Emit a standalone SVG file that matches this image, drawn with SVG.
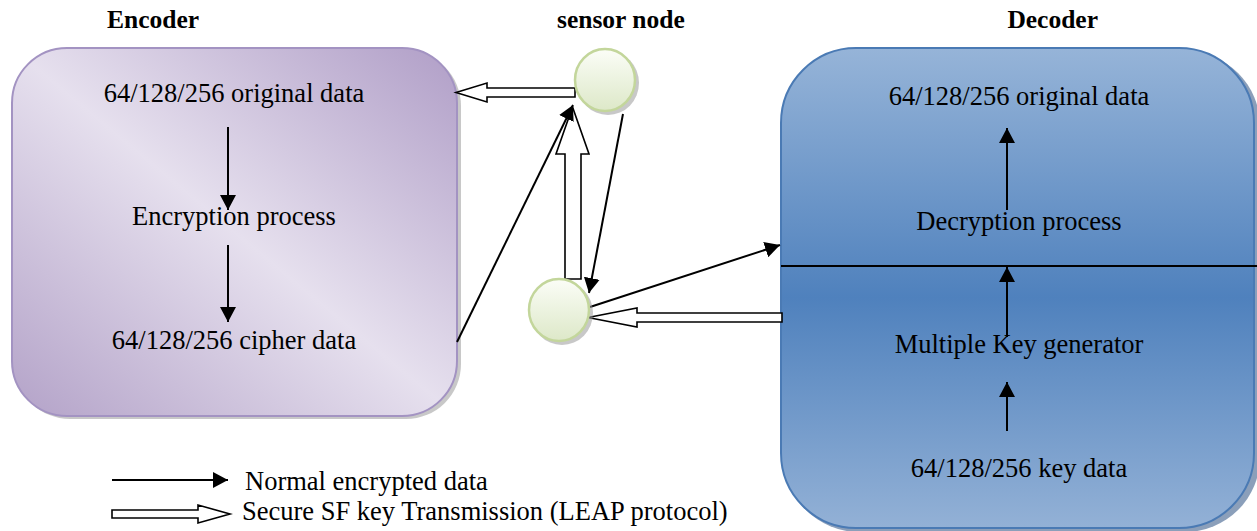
<svg xmlns="http://www.w3.org/2000/svg" width="1257" height="531" viewBox="0 0 1257 531">
  <style>
    .t { font-family: "Liberation Serif", "Times New Roman", serif; font-size: 26.5px; fill: #000; }
    .title { font-family: "Liberation Serif", "Times New Roman", serif; font-size: 25.5px; font-weight: bold; fill: #000; }
    .ln { stroke: #000; stroke-width: 2; fill: none; }
    .hollow { fill: #fff; stroke: #000; stroke-width: 1.6; stroke-linejoin: miter; }
    .sensor { fill: url(#gSensor); stroke: #c3d69b; stroke-width: 2.5; }
    .shadow { fill: #9a9a9a; opacity: 0.55; }
  </style>
  <defs>
    <linearGradient id="gEnc" x1="0" y1="1" x2="1" y2="0">
      <stop offset="0" stop-color="#b3a2c8"/>
      <stop offset="0.5" stop-color="#e6e0ee"/>
      <stop offset="1" stop-color="#b09ec7"/>
    </linearGradient>
    <linearGradient id="gDec" x1="0" y1="0" x2="0" y2="1">
      <stop offset="0" stop-color="#96b4d8"/>
      <stop offset="0.52" stop-color="#4f81bd"/>
      <stop offset="1" stop-color="#93b1d6"/>
    </linearGradient>
    <linearGradient id="gSensor" x1="0" y1="0" x2="0" y2="1">
      <stop offset="0" stop-color="#fbfdf7"/>
      <stop offset="1" stop-color="#dde8c8"/>
    </linearGradient>
    <marker id="ah" markerWidth="16" markerHeight="16" refX="15" refY="8" orient="auto" markerUnits="userSpaceOnUse">
      <path d="M0,0 L15,8 L0,16 z" fill="#000"/>
    </marker>
  </defs>

  <!-- titles -->
  <text class="title" x="153" y="28" text-anchor="middle">Encoder</text>
  <text class="title" x="557" y="28">sensor node</text>
  <text class="title" x="1098" y="28" text-anchor="end">Decoder</text>

  <!-- Encoder -->
  <g id="encoder">
    <rect x="15" y="51" width="446" height="368" rx="55" ry="55" class="shadow"/>
    <rect x="12" y="48" width="445" height="368" rx="55" ry="55" fill="url(#gEnc)" stroke="#a393c2" stroke-width="2"/>
    <text class="t" x="234" y="102" text-anchor="middle">64/128/256 original data</text>
    <text class="t" x="234" y="225" text-anchor="middle">Encryption process</text>
    <text class="t" x="234" y="349" text-anchor="middle">64/128/256 cipher data</text>
    <line class="ln" x1="228" y1="127" x2="228" y2="210" marker-end="url(#ah)"/>
    <line class="ln" x1="228" y1="245" x2="228" y2="322" marker-end="url(#ah)"/>
  </g>

  <!-- Decoder -->
  <g id="decoder">
    <rect x="784" y="51" width="476" height="481" rx="75" ry="75" fill="#3d5f8c" opacity="0.6"/>
    <rect x="781" y="48" width="473" height="480" rx="75" ry="75" fill="url(#gDec)" stroke="#4a7ab4" stroke-width="2"/>
    <line x1="781" y1="266" x2="1257" y2="266" stroke="#000" stroke-width="2"/>
    <text class="t" x="1019" y="105" text-anchor="middle">64/128/256 original data</text>
    <text class="t" x="1019" y="230" text-anchor="middle">Decryption process</text>
    <text class="t" x="1019" y="353" text-anchor="middle">Multiple Key generator</text>
    <text class="t" x="1019" y="477" text-anchor="middle">64/128/256 key data</text>
    <line class="ln" x1="1007" y1="210" x2="1007" y2="128" marker-end="url(#ah)"/>
    <line class="ln" x1="1007" y1="337" x2="1007" y2="267" marker-end="url(#ah)"/>
    <line class="ln" x1="1007" y1="431" x2="1007" y2="382" marker-end="url(#ah)"/>
  </g>

  <!-- connectors -->
  <g id="connectors">
    <polygon class="hollow" points="575,88 487,88 487,83 456,92.5 487,102 487,97 575,97"/>
    <polygon class="hollow" points="565,279 565,154 556,154 572.5,107 589,154 581,154 581,279"/>
    <polygon class="hollow" points="782,313 637,313 637,308 588,317.5 637,327 637,322 782,322"/>
    <line class="ln" x1="457" y1="342" x2="573" y2="105" marker-end="url(#ah)"/>
    <line class="ln" x1="623" y1="114" x2="589" y2="293" marker-end="url(#ah)"/>
    <line class="ln" x1="590" y1="307" x2="780" y2="245" marker-end="url(#ah)"/>
  </g>

  <!-- sensor nodes -->
  <g id="sensor-top">
    <ellipse cx="608" cy="83" rx="31" ry="32" class="shadow"/>
    <ellipse cx="605" cy="80" rx="30" ry="31" class="sensor"/>
  </g>
  <g id="sensor-bottom">
    <ellipse cx="562" cy="313" rx="31" ry="32" class="shadow"/>
    <ellipse cx="559" cy="310" rx="30" ry="31" class="sensor"/>
  </g>

  <!-- legend -->
  <g id="legend">
    <line class="ln" x1="112" y1="480" x2="228" y2="480" marker-end="url(#ah)"/>
    <polygon class="hollow" points="112,510 198,510 198,505 230,514 198,523 198,518 112,518"/>
    <text class="t" x="245" y="490">Normal encrypted data</text>
    <text class="t" x="242" y="520">Secure SF key Transmission (LEAP protocol)</text>
  </g>
</svg>
